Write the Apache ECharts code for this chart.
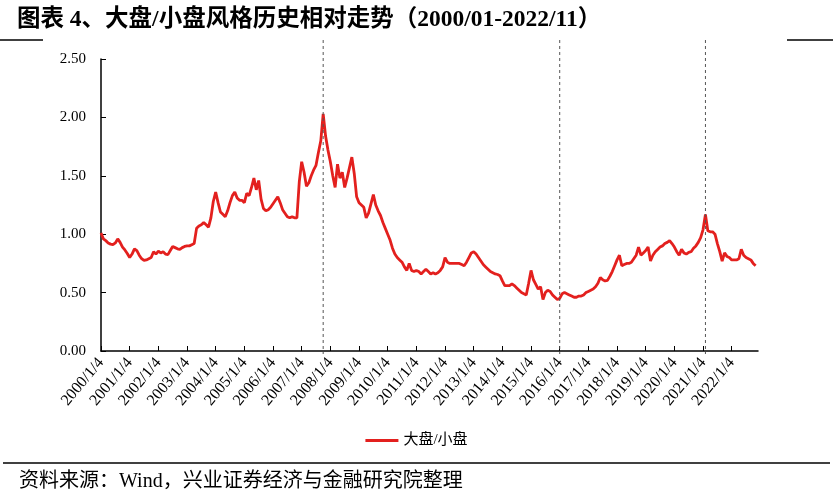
<!DOCTYPE html>
<html>
<head>
<meta charset="utf-8">
<script src="https://cdn.jsdelivr.net/npm/echarts@6/dist/echarts.min.js"></script>
<style>
html, body { margin: 0; padding: 0; background: #fff; }
#main { width: 833px; height: 500px; }
</style>
</head>
<body>
<div id="main"></div>
<script>
// 大盘/小盘 月度数值
var v2000 = [1.01, 0.96, 0.945, 0.925, 0.915, 0.91, 0.925, 0.96, 0.93, 0.89, 0.865, 0.835];
var v2001 = [0.80, 0.83, 0.875, 0.86, 0.82, 0.79, 0.775, 0.78, 0.79, 0.80, 0.85, 0.83];
var v2002 = [0.855, 0.84, 0.85, 0.83, 0.825, 0.86, 0.895, 0.885, 0.875, 0.87, 0.885, 0.895];
var v2003 = [0.90, 0.90, 0.91, 0.92, 1.05, 1.07, 1.08, 1.10, 1.08, 1.06, 1.14, 1.28];
var v2004 = [1.36, 1.27, 1.19, 1.17, 1.15, 1.20, 1.27, 1.33, 1.36, 1.31, 1.29, 1.29];
var v2005 = [1.27, 1.35, 1.33, 1.40, 1.48, 1.38, 1.46, 1.30, 1.22, 1.20, 1.21, 1.23];
var v2006 = [1.26, 1.29, 1.32, 1.27, 1.21, 1.18, 1.15, 1.14, 1.15, 1.14, 1.14, 1.45];
var v2007 = [1.62, 1.53, 1.41, 1.44, 1.50, 1.55, 1.59, 1.70, 1.80, 2.03, 1.84, 1.72];
var v2008 = [1.62, 1.50, 1.40, 1.60, 1.48, 1.53, 1.40, 1.48, 1.57, 1.66, 1.52, 1.32];
var v2009 = [1.27, 1.25, 1.23, 1.14, 1.18, 1.26, 1.34, 1.25, 1.20, 1.16, 1.10, 1.05];
var v2010 = [1.00, 0.95, 0.88, 0.83, 0.80, 0.78, 0.76, 0.72, 0.69, 0.75, 0.69, 0.68];
var v2011 = [0.69, 0.68, 0.66, 0.68, 0.70, 0.68, 0.66, 0.67, 0.66, 0.67, 0.69, 0.72];
var v2012 = [0.80, 0.76, 0.75, 0.75, 0.75, 0.75, 0.75, 0.74, 0.73, 0.76, 0.80, 0.84];
var v2013 = [0.85, 0.83, 0.80, 0.77, 0.74, 0.72, 0.70, 0.68, 0.67, 0.66, 0.655, 0.645];
var v2014 = [0.60, 0.56, 0.56, 0.56, 0.575, 0.56, 0.54, 0.52, 0.50, 0.49, 0.48, 0.58];
var v2015 = [0.69, 0.61, 0.57, 0.53, 0.55, 0.44, 0.50, 0.52, 0.51, 0.48, 0.46, 0.44];
var v2016 = [0.45, 0.49, 0.50, 0.49, 0.48, 0.47, 0.46, 0.46, 0.47, 0.47, 0.48, 0.50];
var v2017 = [0.51, 0.52, 0.53, 0.55, 0.58, 0.63, 0.61, 0.60, 0.605, 0.64, 0.68, 0.73];
var v2018 = [0.78, 0.82, 0.73, 0.74, 0.75, 0.75, 0.76, 0.79, 0.82, 0.89, 0.82, 0.84];
var v2019 = [0.86, 0.89, 0.77, 0.82, 0.85, 0.87, 0.89, 0.90, 0.92, 0.93, 0.945, 0.92];
var v2020 = [0.89, 0.85, 0.82, 0.87, 0.84, 0.83, 0.845, 0.85, 0.88, 0.90, 0.93, 0.97];
var v2021 = [1.04, 1.17, 1.03, 1.02, 1.02, 1.00, 0.92, 0.85, 0.77, 0.84, 0.81, 0.80];
var v2022 = [0.78, 0.78, 0.78, 0.79, 0.87, 0.82, 0.80, 0.79, 0.78, 0.75, 0.73];

// x轴刻度标签（每年第一个交易日）
var tickLabels = ['2000/1/4', '2001/1/4', '2002/1/4', '2003/1/4', '2004/1/4', '2005/1/4',
    '2006/1/4', '2007/1/4', '2008/1/4', '2009/1/4', '2010/1/4', '2011/1/4', '2012/1/4',
    '2013/1/4', '2014/1/4', '2015/1/4', '2016/1/4', '2017/1/4', '2018/1/4', '2019/1/4',
    '2020/1/4', '2021/1/4', '2022/1/4'];

// 竖虚线位置
var dashDates = ['2007/10', '2016/01', '2021/02'];

var seriesName = '大盘/小盘';

var ratio = [].concat(v2000, v2001, v2002, v2003, v2004, v2005, v2006, v2007, v2008,
    v2009, v2010, v2011, v2012, v2013, v2014, v2015, v2016, v2017, v2018, v2019,
    v2020, v2021, v2022);

// 月份类目 2000/01 - 2022/12
var months = [];
for (var y = 2000; y <= 2022; y++) {
    for (var m = 1; m <= 12; m++) {
        months.push(y + '/' + (m < 10 ? '0' + m : m));
    }
}

var latin = '"Liberation Serif", "Noto Sans CJK SC", serif';
var isYearStart = function (index) { return index % 12 === 0; };

var myChart = echarts.init(document.getElementById('main'));
var option = {
    animation: false,
    backgroundColor: '#fff',
    title: [
        {
            text: '图表 4、大盘/小盘风格历史相对走势（2000/01-2022/11）',
            left: 12,
            top: 3,
            textStyle: { fontSize: 23.5, fontWeight: 'bold', color: '#000', fontFamily: latin }
        },
        {
            text: '资料来源：Wind，兴业证券经济与金融研究院整理',
            left: 14,
            top: 467,
            textStyle: { fontSize: 20, fontWeight: 'normal', color: '#000', fontFamily: latin }
        }
    ],
    legend: {
        data: [seriesName],
        left: 'center',
        top: 428,
        icon: 'rect',
        itemWidth: 33,
        itemHeight: 3,
        itemGap: 8,
        textStyle: { fontSize: 15, color: '#000', fontFamily: latin }
    },
    grid: {
        left: 101,
        right: 75,
        top: 59,
        bottom: 149
    },
    xAxis: {
        type: 'category',
        data: months,
        boundaryGap: false,
        axisLine: { lineStyle: { color: '#000', width: 1.5 } },
        axisTick: { inside: true, length: 5, interval: isYearStart, lineStyle: { color: '#000' } },
        axisLabel: {
            interval: isYearStart,
            rotate: 50,
            margin: 9,
            fontSize: 16,
            color: '#000',
            fontFamily: latin,
            formatter: function (value, index) {
                return tickLabels[Math.floor(index / 12)];
            }
        },
        splitLine: { show: false }
    },
    yAxis: {
        type: 'value',
        min: 0,
        max: 2.5,
        interval: 0.5,
        axisLine: { show: true, lineStyle: { color: '#000', width: 1.5 } },
        axisTick: { show: true, inside: true, length: 5, lineStyle: { color: '#000' } },
        axisLabel: {
            margin: 15,
            fontSize: 15,
            color: '#000',
            fontFamily: latin,
            formatter: function (v) { return v.toFixed(2); }
        },
        splitLine: { show: false }
    },
    series: [
        {
            name: seriesName,
            type: 'line',
            data: ratio,
            showSymbol: false,
            symbol: 'none',
            lineStyle: { color: '#E3201E', width: 2.8 },
            itemStyle: { color: '#E3201E' }
        }
    ]
};
myChart.setOption(option);

// 分隔线与竖虚线（位置通过坐标轴换算）
var y0 = myChart.convertToPixel({ yAxisIndex: 0 }, 0);
var graphics = [
    { type: 'line', shape: { x1: 0, y1: 40, x2: 43, y2: 40 }, style: { stroke: '#000', lineWidth: 1.5 } },
    { type: 'line', shape: { x1: 787, y1: 40, x2: 833, y2: 40 }, style: { stroke: '#000', lineWidth: 1.5 } },
    { type: 'line', shape: { x1: 3, y1: 463, x2: 830, y2: 463 }, style: { stroke: '#000', lineWidth: 1.5 } }
];
dashDates.forEach(function (d) {
    var x = myChart.convertToPixel({ xAxisIndex: 0 }, d);
    graphics.push({
        type: 'line',
        z: 100,
        shape: { x1: x, y1: 40, x2: x, y2: y0 + 3 },
        style: { stroke: '#555', lineWidth: 1, lineDash: [3, 3] }
    });
});
myChart.setOption({ graphic: graphics });
</script>
</body>
</html>
